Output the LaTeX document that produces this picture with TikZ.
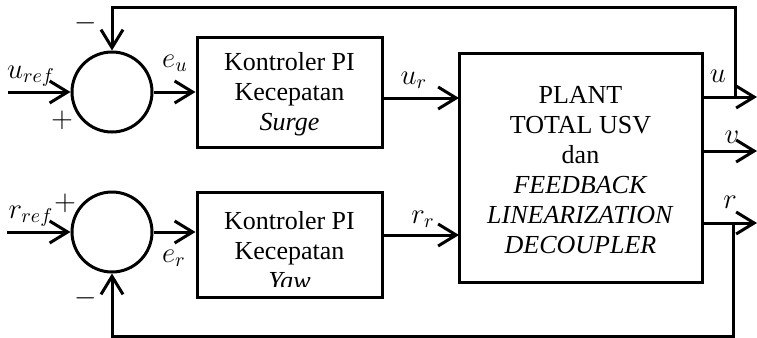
\documentclass[tikz,border=0pt]{standalone}
\usepackage{fontspec}
\setmainfont{Liberation Serif}
\usetikzlibrary{arrows.meta}
\tikzset{
	blok/.style={draw, line width=1.5pt, inner sep=0pt},
	teks/.style={align=center, inner sep=0pt},
	jumlah/.style={draw, circle, line width=1.5pt, minimum size=40pt, inner sep=0pt},
	sinyal/.style={line width=1.5pt, -{Straight Barb[length=9pt,width=11pt,line width=1.5pt]}},
	garis/.style={line width=1.5pt},
	lbl/.style={inner sep=0pt, font=\fontsize{14}{16}\selectfont}
}
\begin{document}
\begin{tikzpicture}[x=0.5pt, y=-0.5pt, font=\fontsize{13}{15}\selectfont]
		\useasboundingbox (0,0) rectangle (757,338);
		\node[jumlah] (sumu) at (112,92) {};
		\node[jumlah] (sumr) at (112,232) {};
		\node[blok, minimum width=92.5pt, minimum height=55pt] (ctrlu) at (289.5,92) {};
		\node[blok, minimum width=92.5pt, minimum height=52.5pt] (ctrlr) at (289.5,244.5) {};
		\node[blok, minimum width=121.5pt, minimum height=114.5pt] (plant) at (580.5,167.5) {};
		\begin{scope}
			\clip (197,37) rectangle (382,139);
			\node[teks] (tctrlu) at (289.5,94) {Kontroler PI\\Kecepatan\\\textit{Surge}};
		\end{scope}
		\begin{scope}
			\clip (197,192) rectangle (382,286.5);
			\node[teks] (tctrlr) at (289.5,251) {Kontroler PI\\Kecepatan\\\textit{Yaw}};
		\end{scope}
		\node[teks] (tplant) at (580.5,170) {PLANT\\TOTAL USV\\dan\\\textit{FEEDBACK}\\\textit{LINEARIZATION}\\\textit{DECOUPLER}};
		\coordinate (inu) at (8,92);
		\coordinate (inr) at (7,232);
		\coordinate (ur) at (459,98);
		\coordinate (rr) at (459,235);
		\coordinate (uout) at (757,97);
		\coordinate (vout) at (757,151);
		\coordinate (rout) at (757,223);
		\coordinate (atas) at (735,7);
		\coordinate (bawah) at (733,336);
		\draw[sinyal] (inu) -- (sumu.west);
		\draw[sinyal] (inr) -- (sumr.west);
		\draw[sinyal] (sumu.east) -- (ctrlu.west |- sumu.east);
		\draw[sinyal] (sumr.east) -- (ctrlr.west |- sumr.east);
		\draw[sinyal] (ur -| ctrlu.east) -- (ur);
		\draw[sinyal] (rr -| ctrlr.east) -- (rr);
		\draw[sinyal] (uout -| plant.east) -- (uout);
		\draw[sinyal] (vout -| plant.east) -- (vout);
		\draw[sinyal] (rout -| plant.east) -- (rout);
		\draw[sinyal] (uout -| atas) -- (atas) -| (sumu.north);
		\draw[sinyal] (rout -| bawah) -- (bawah) -| (sumr.south);
		\node[lbl] (luref) at (31,76) {$u_{ref}$};
		\node[lbl] (lrref) at (31,216) {$r_{ref}$};
		\node[lbl] (plusu) at (62,120) {$+$};
		\node[lbl] (minu) at (86,23) {$-$};
		\node[lbl] (plusr) at (65,203) {$+$};
		\node[lbl] (minr) at (86,298) {$-$};
		\node[lbl] (leu) at (175,63) {$e_u$};
		\node[lbl] (ler) at (174,258) {$e_r$};
		\node[lbl] (lur) at (414,80) {$u_r$};
		\node[lbl] (lrr) at (423,219) {$r_r$};
		\node[lbl] (lu) at (718,76) {$u$};
		\node[lbl] (lv) at (732,137) {$v$};
		\node[lbl] (lr) at (730,202) {$r$};
	\end{tikzpicture}
\end{document}
